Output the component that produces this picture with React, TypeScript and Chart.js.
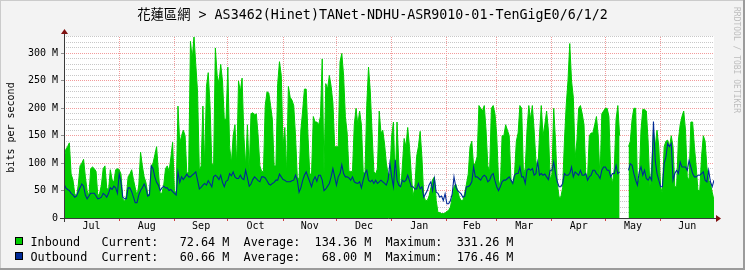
import React, { useEffect, useRef } from 'react';
import { Chart, registerables } from 'chart.js';

Chart.register(...registerables);

const TITLE = '花蓮區網 > AS3462(Hinet)TANet-NDHU-ASR9010-01-TenGigE0/6/1/2';
const Y_LABEL = 'bits per second';
const WATERMARK = 'RRDTOOL / TOBI OETIKER';
const MONTHS = ['Jul', 'Aug', 'Sep', 'Oct', 'Nov', 'Dec', 'Jan', 'Feb', 'Mar', 'Apr', 'May', 'Jun'];
const MONTH_START_DAYS = [0, 31, 62, 92, 123, 153, 184, 215, 243, 274, 304, 335];
const PERIOD_DAYS = 365;
const Y_MAX = 330;
const Y_STEP = 10;
const Y_MAJOR = 50;

const SERIES_NAMES = ['Inbound', 'Outbound'];
const SERIES_COLORS = ['#00cc00', '#002a97'];
const CURRENT = ['72.64 M', '60.66 M'];
const AVERAGE = ['134.36 M', '68.00 M'];
const MAXIMUM = ['331.26 M', '176.46 M'];

// daily values, Mbit/s, day 0 = Jul 1
const inbound: (number | null)[] = [
  105, 125, 130, 137, 80, 70, 45, 38, 60, 95,
  100, 107, 75, 50, 40, 90, 93, 90, 85, 40,
  45, 60, 90, 95, 55, 50, 88, 70, 65, 88,
  90, 88, 80, 35, 30, 40, 75, 80, 88, 70,
  55, 40, 60, 120, 95, 75, 65, 45, 40, 95,
  100, 115, 130, 85, 45, 45, 60, 90, 95, 85,
  110, 138, 50, 45, 204, 136, 150, 160, 150, 80,
  85, 322, 290, 331, 280, 230, 87, 95, 204, 95,
  240, 265, 205, 100, 95, 310, 260, 245, 280, 250,
  180, 180, 275, 130, 100, 150, 170, 95, 250, 230,
  255, 150, 95, 170, 85, 190, 192, 188, 190, 150,
  95, 85, 85, 205, 230, 228, 205, 180, 95, 95,
  245, 285, 260, 130, 165, 80, 240, 220, 215, 205,
  150, 75, 70, 160, 195, 235, 235, 150, 80, 80,
  185, 175, 175, 170, 185, 290, 80, 245, 235, 260,
  240, 210, 130, 130, 130, 285, 300, 260, 185, 155,
  85, 85, 85, 170, 200, 170, 195, 170, 85, 80,
  205, 275, 230, 155, 85, 80, 90, 195, 155, 160,
  135, 100, 80, 80, 150, 175, 60, 175, 100, 45,
  95, 145, 130, 165, 130, 80, 40, 55, 112, 130,
  158, 110, 40, 32, 32, 40, 55, 70, 75, 32,
  10, 10, 8, 8, 9, 12, 14, 20, 38, 57,
  62, 50, 38, 32, 32, 45, 62, 80, 130, 140,
  95, 100, 112, 205, 200, 195, 205, 160, 95, 85,
  200, 205, 190, 150, 70, 55, 150, 150, 170, 160,
  150, 70, 63, 80, 140, 155, 205, 200, 80, 90,
  160, 205, 180, 205, 160, 105, 80, 150, 205, 150,
  170, 195, 160, 70, 80, 200, 140, 63, 38, 38,
  55, 140, 205, 250, 318, 250, 220, 110, 140, 200,
  205, 190, 170, 80, 75, 150, 155, 155, 170, 185,
  150, 70, 190, 195, 200, 200, 185, 80, 63, 90,
  180, 205, 150, null, null, null, null, 130, 140, 180,
  200, 200, 69, 69, 160, 198, 198, 195, 140, 57,
  93, 160, 130, 160, 130, 57, 45, 130, 140, 142,
  130, 150, 130, 57, 57, 142, 170, 185, 195, 160,
  75, 69, 175, 175, 130, 93, 50, 50, 112, 150,
  140, 93, 69, 63, 47, 32,
];

const outbound: (number | null)[] = [
  62, 55, 52, 50, 45, 42, 38, 40, 48, 55,
  62, 58, 42, 35, 40, 45, 45, 45, 40, 35,
  36, 38, 45, 42, 38, 45, 55, 52, 58, 55,
  45, 80, 65, 38, 35, 35, 55, 55, 48, 38,
  28, 28, 42, 50, 55, 62, 55, 40, 42, 95,
  90, 75, 65, 60, 50, 55, 58, 55, 55, 50,
  52, 48, 45, 42, 84, 65, 75, 70, 75, 80,
  75, 75, 78, 81, 84, 69, 53, 56, 60, 63,
  60, 68, 63, 57, 75, 78, 75, 70, 78, 65,
  57, 67, 69, 81, 77, 84, 75, 72, 72, 78,
  72, 70, 87, 73, 58, 62, 70, 75, 72, 68,
  66, 75, 75, 73, 68, 62, 60, 63, 65, 69,
  69, 80, 75, 70, 69, 66, 66, 66, 68, 69,
  78, 69, 47, 55, 68, 78, 84, 75, 66, 57,
  69, 75, 67, 78, 78, 69, 50, 53, 58, 63,
  75, 90, 75, 60, 75, 81, 97, 81, 75, 75,
  73, 69, 75, 66, 64, 63, 66, 55, 69, 81,
  87, 69, 66, 69, 63, 69, 63, 66, 69, 66,
  63, 60, 70, 100, 75, 57, 106, 69, 60, 57,
  69, 66, 69, 78, 68, 57, 57, 53, 53, 63,
  53, 57, 38, 44, 50, 60, 66, 50, 72, 47,
  45, 38, 40, 32, 44, 26, 26, 32, 44, 75,
  57, 50, 47, 44, 38, 40, 57, 57, 60, 66,
  93, 75, 75, 72, 69, 75, 78, 75, 66, 69,
  78, 81, 68, 57, 50, 57, 66, 69, 69, 72,
  75, 69, 63, 78, 81, 81, 93, 75, 75, 63,
  87, 90, 87, 90, 78, 81, 102, 78, 81, 78,
  80, 75, 70, 87, 87, 102, 81, 66, 57, 57,
  63, 81, 78, 78, 81, 93, 75, 84, 81, 78,
  87, 78, 78, 81, 69, 75, 78, 87, 87, 81,
  78, 72, 87, 93, 93, 87, 87, 75, 81, 81,
  96, 81, 84, null, null, null, null, 87, 99, 96,
  81, 69, 60, 84, 93, 78, 87, 72, 69, 75,
  69, 176, 105, 81, 69, 57, 57, 99, 111, 136,
  130, 136, 69, 81, 87, 81, 102, 93, 93, 93,
  87, 105, 93, 81, 75, 75, 78, 78, 81, 84,
  69, 66, 87, 66, 57, 69,
];

const MONO = "'DejaVu Sans Mono', 'Noto Sans CJK TC', monospace";
const MAJOR_GRID = '#f29b9b';
const MINOR_GRID = '#c8c8c8';
const CLEAR = 'rgba(0,0,0,0)';

const MONTH_MID_DAYS = MONTH_START_DAYS.map((d, i) => {
  const next = i + 1 < MONTH_START_DAYS.length ? MONTH_START_DAYS[i + 1] : PERIOD_DAYS;
  return (d + next) / 2;
});
const LABEL_MAP = new Map<number, string>(MONTH_MID_DAYS.map((d, i) => [d, MONTHS[i]]));
const GRID_DAYS = MONTH_START_DAYS.filter((d) => d > 0);
const TICK_DAYS = [...GRID_DAYS, ...MONTH_MID_DAYS].sort((a, b) => a - b);

const legendLine = (i: number) =>
  SERIES_NAMES[i].padEnd(10) +
  'Current:' + CURRENT[i].padStart(10) +
  '  Average:' + AVERAGE[i].padStart(10) +
  '  Maximum:' + MAXIMUM[i].padStart(10);

const rrdPlugin = {
  id: 'rrdDecor',
  beforeDraw(chart: any) {
    const { ctx, width: W, height: H, chartArea: a } = chart;
    ctx.save();
    ctx.fillStyle = '#f3f3f3';
    ctx.fillRect(0, 0, W, H);
    ctx.fillStyle = '#cbcbcb';
    ctx.fillRect(0, 0, W, 1);
    ctx.fillRect(0, 0, 1, H);
    ctx.fillStyle = '#9b9b9b';
    ctx.fillRect(0, H - 2, W, 2);
    ctx.fillRect(W - 2, 0, 2, H);
    ctx.fillStyle = '#ffffff';
    ctx.fillRect(a.left, a.top - 1, a.right - a.left, a.bottom - a.top + 1);
    ctx.restore();
  },
  afterDraw(chart: any) {
    const { ctx, chartArea: a } = chart;
    ctx.save();
    // axes
    ctx.strokeStyle = '#3a3a3a';
    ctx.lineWidth = 1;
    ctx.beginPath();
    ctx.moveTo(a.left - 4, Math.round(a.bottom) + 0.5);
    ctx.lineTo(a.right + 3, Math.round(a.bottom) + 0.5);
    ctx.moveTo(Math.round(a.left) + 0.5, a.bottom + 4);
    ctx.lineTo(Math.round(a.left) + 0.5, a.top - 3);
    ctx.stroke();
    ctx.fillStyle = '#7f1010';
    const by = Math.round(a.bottom) + 0.5;
    ctx.beginPath();
    ctx.moveTo(a.right + 2, by - 3.5);
    ctx.lineTo(a.right + 7, by);
    ctx.lineTo(a.right + 2, by + 3.5);
    ctx.closePath();
    ctx.fill();
    const lx = Math.round(a.left) + 0.5;
    ctx.beginPath();
    ctx.moveTo(lx - 3.5, a.top - 3);
    ctx.lineTo(lx, a.top - 8);
    ctx.lineTo(lx + 3.5, a.top - 3);
    ctx.closePath();
    ctx.fill();

    // legend
    ctx.font = `11.8px ${MONO}`;
    ctx.textBaseline = 'alphabetic';
    ctx.textAlign = 'left';
    SERIES_NAMES.forEach((_, i) => {
      const boxY = 237 + i * 15;
      ctx.fillStyle = SERIES_COLORS[i];
      ctx.fillRect(15, boxY, 8, 8);
      ctx.strokeStyle = '#000';
      ctx.strokeRect(15.5, boxY + 0.5, 7, 7);
      ctx.fillStyle = '#000';
      ctx.fillText(legendLine(i), 30.5, 245.5 + i * 15);
    });

    // watermark
    ctx.font = `8px ${MONO}`;
    ctx.fillStyle = '#bdbdbd';
    ctx.translate(736, 7);
    ctx.rotate(Math.PI / 2);
    ctx.textBaseline = 'middle';
    ctx.fillText(WATERMARK, 0, 0);
    ctx.restore();
  },
};

export default function App() {
  const ref = useRef<HTMLCanvasElement | null>(null);

  useEffect(() => {
    document.body.style.margin = '0';
    if (!ref.current) return;
    const chart = new Chart(ref.current, {
      type: 'line',
      data: {
        datasets: [
          {
            label: SERIES_NAMES[1],
            data: outbound.map((v, i) => ({ x: i, y: v })),
            borderColor: SERIES_COLORS[1],
            borderWidth: 1.1,
            fill: false,
            pointRadius: 0,
            tension: 0,
            spanGaps: false,
            order: 0,
          },
          {
            label: SERIES_NAMES[0],
            data: inbound.map((v, i) => ({ x: i, y: v })),
            borderColor: SERIES_COLORS[0],
            backgroundColor: SERIES_COLORS[0],
            borderWidth: 1,
            fill: 'origin',
            pointRadius: 0,
            tension: 0,
            spanGaps: false,
            order: 1,
          },
        ] as any,
      },
      options: {
        responsive: false,
        animation: false,
        devicePixelRatio: 1,
        layout: { padding: { left: 0, right: 0, top: 0, bottom: 32 } },
        plugins: {
          legend: { display: false },
          tooltip: { enabled: false },
          title: {
            display: true,
            text: TITLE,
            color: '#000',
            font: { family: MONO, size: 13.33, weight: 'normal' },
            padding: { top: 8, bottom: 13 },
          },
        },
        scales: {
          x: {
            type: 'linear',
            min: 0,
            max: PERIOD_DAYS,
            afterBuildTicks: (s: any) => {
              s.ticks = TICK_DAYS.map((v) => ({ value: v }));
            },
            afterFit: (s: any) => {
              s.height = 20;
            },
            ticks: {
              autoSkip: false,
              maxRotation: 0,
              minRotation: 0,
              padding: -1,
              color: '#000',
              font: { family: MONO, size: 10 },
              callback: (v: any) => LABEL_MAP.get(Number(v)) ?? '',
            },
            grid: {
              color: (c: any) => (c.tick && GRID_DAYS.includes(c.tick.value) ? MAJOR_GRID : CLEAR),
              tickColor: (c: any) => (c.tick && GRID_DAYS.includes(c.tick.value) ? '#d04040' : CLEAR),
              drawTicks: true,
              tickLength: 3,
              lineWidth: 1,
            },
            border: { display: false, dash: [1, 1] },
          },
          y: {
            type: 'linear',
            position: 'left',
            min: 0,
            max: Y_MAX,
            afterFit: (s: any) => {
              s.width = 64;
            },
            ticks: {
              stepSize: Y_STEP,
              autoSkip: false,
              padding: 3,
              color: '#000',
              font: { family: MONO, size: 10 },
              callback: (v: any) => (v % Y_MAJOR === 0 ? (v === 0 ? '0' : `${v} M`) : ''),
            },
            grid: {
              color: (c: any) => (c.tick && c.tick.value % Y_MAJOR === 0 ? MAJOR_GRID : MINOR_GRID),
              tickColor: (c: any) => (c.tick && c.tick.value % Y_MAJOR === 0 ? '#909090' : CLEAR),
              drawTicks: true,
              tickLength: 3,
              lineWidth: 1,
            },
            border: { display: false, dash: [1, 1] },
            title: {
              display: true,
              text: Y_LABEL,
              color: '#000',
              font: { family: MONO, size: 10 },
              padding: { top: 5, bottom: 0 },
            },
          },
          yr: {
            type: 'linear',
            position: 'right',
            display: true,
            afterFit: (s: any) => {
              s.width = 31;
            },
            grid: { display: false, drawOnChartArea: false, drawTicks: false },
            ticks: { display: false },
            border: { display: false },
          },
        },
      } as any,
      plugins: [rrdPlugin],
    });
    return () => chart.destroy();
  }, []);

  return (
    <div style={{ width: 745, height: 270 }}>
      <canvas ref={ref} width={745} height={270} style={{ display: 'block', width: 745, height: 270 }} />
    </div>
  );
}
